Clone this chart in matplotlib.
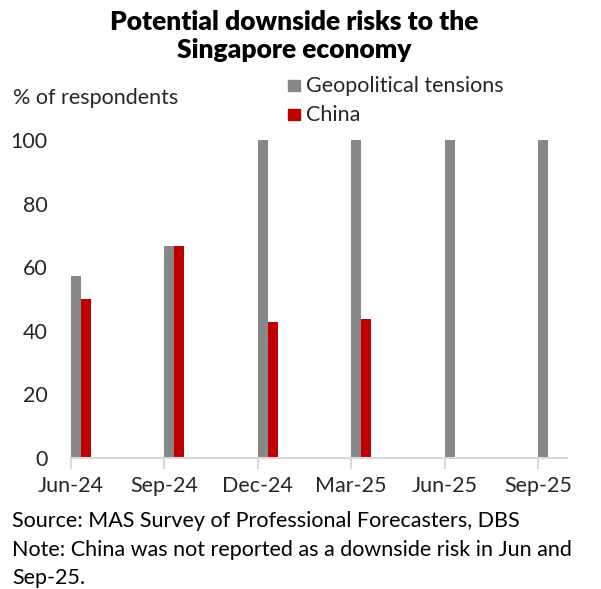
import numpy as np
import matplotlib
matplotlib.use("Agg")
from matplotlib import pyplot as plt
from matplotlib.patches import Rectangle

quarters = ["Jun-24", "Sep-24", "Dec-24", "Mar-25", "Jun-25", "Sep-25"]
geopolitical = [57.1, 66.7, 100, 100, 100, 100]
china = [50.0, 66.7, 42.9, 43.8, np.nan, np.nan]

plt.rcParams['font.family'] = ['Lato', 'DejaVu Sans']
txt = '#262626'
grey = '#878787'
red = '#c00000'
fs = 15.5

W, H = 601, 589
fig = plt.figure(figsize=(W / 100, H / 100), dpi=100)
ax = fig.add_axes([71 / W, 1 - 458 / H, (567 - 71) / W, (458 - 140) / H])

x = np.arange(len(quarters))
bw = 0.107
ax.bar(x, geopolitical, width=bw, align='edge', color=grey)
ax.bar(x + bw, china, width=bw, align='edge', color=red)

ax.set_xlim(0, 5.31)
ax.set_ylim(0, 100)
ax.set_yticks(range(0, 101, 20))
ax.set_xticks(x)
ax.set_xticklabels(quarters)
for s in ['top', 'right', 'left']:
    ax.spines[s].set_visible(False)
ax.spines['bottom'].set_color('#d9d9d9')
ax.spines['bottom'].set_linewidth(1.5)
ax.tick_params(axis='y', length=0, pad=17, labelsize=fs, labelcolor=txt)
ax.tick_params(axis='x', length=8, width=1.5, color='#d9d9d9', pad=5,
               labelsize=fs, labelcolor=txt)

fig.text(294 / W, 1 - 36 / H, "Potential downside risks to the\nSingapore economy",
         ha='center', va='center', fontsize=19, fontweight='heavy', color='black',
         linespacing=1.2)
fig.text(13 / W, 1 - 98 / H, "% of respondents", ha='left', va='center',
         fontsize=fs, color=txt)

# legend
for yy, col, lab in [(86, grey, "Geopolitical tensions"), (115, red, "China")]:
    fig.patches.append(Rectangle((288 / W, 1 - (yy + 5) / H), 12 / W, 11 / H,
                                 transform=fig.transFigure, color=col))
    fig.text(306 / W, 1 - yy / H, lab, ha='left', va='center', fontsize=fs, color=txt)

fig.text(12 / W, 1 - 521 / H, "Source: MAS Survey of Professional Forecasters, DBS",
         ha='left', va='center', fontsize=fs, color='black')
fig.text(12 / W, 1 - 550 / H, "Note: China was not reported as a downside risk in Jun and",
         ha='left', va='center', fontsize=fs, color='black')
fig.text(12 / W, 1 - 578 / H, "Sep-25.", ha='left', va='center', fontsize=fs, color='black')

fig.savefig("out.png", dpi=100, facecolor='white')
